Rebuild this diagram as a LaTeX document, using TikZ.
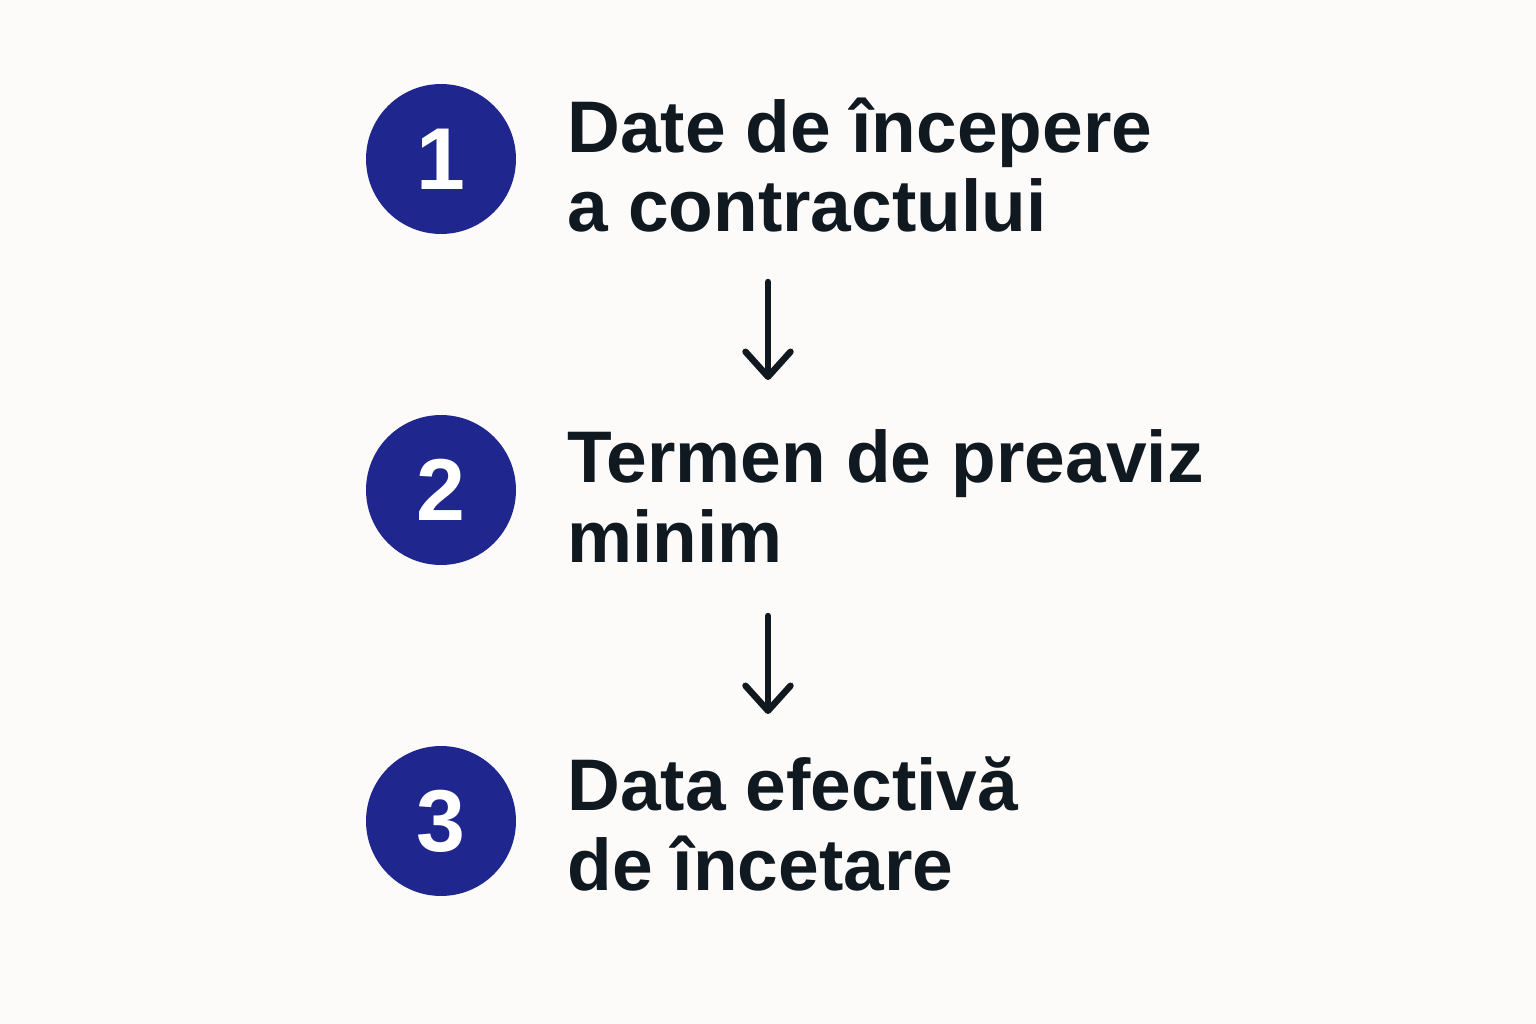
\documentclass[tikz,border=0pt]{standalone}
\usepackage{fontspec}
\setmainfont{Liberation Sans}
\usetikzlibrary{arrows.meta}
\definecolor{stepblue}{RGB}{31,39,143}
\definecolor{inkdark}{RGB}{16,24,32}
\definecolor{paper}{RGB}{252,251,249}
\begin{document}
\begin{tikzpicture}[x=0.02cm, y=-0.02cm,
    num/.style={circle, fill=stepblue, text=white, minimum size=3cm, inner sep=0pt, font=\fontsize{50}{50}\selectfont\bfseries},
    lbl/.style={anchor=base west, align=left, text=inkdark, inner sep=0pt, font=\fontsize{41.6}{45.5}\selectfont\bfseries},
    arr/.style={-{Straight Barb[round, length=0.5cm, width=0.9cm]}, line width=0.13cm, line cap=round, line join=round, draw=inkdark}]
\fill[paper] (0,0) rectangle (1536,1024);
\useasboundingbox (0,0) rectangle (1536,1024);
% numbered circles
\node[num] (s1) at (441,159) {1};
\node[num] (s2) at (441,490) {2};
\node[num] (s3) at (441,821) {3};
% labels (base = last line)
\node[lbl] (t1) at (567,232) {Date de începere\\a contractului};
\node[lbl] (t2) at (567,562) {Termen de preaviz\\minim};
\node[lbl] (t3) at (567,890) {Data efectivă\\de încetare};
% arrows
\coordinate (a1) at (768,282);
\coordinate (b1) at (768,380);
\coordinate (a2) at (768,616);
\coordinate (b2) at (768,714);
\draw[arr] (a1) -- (b1);
\draw[arr] (a2) -- (b2);
\end{tikzpicture}
\end{document}
